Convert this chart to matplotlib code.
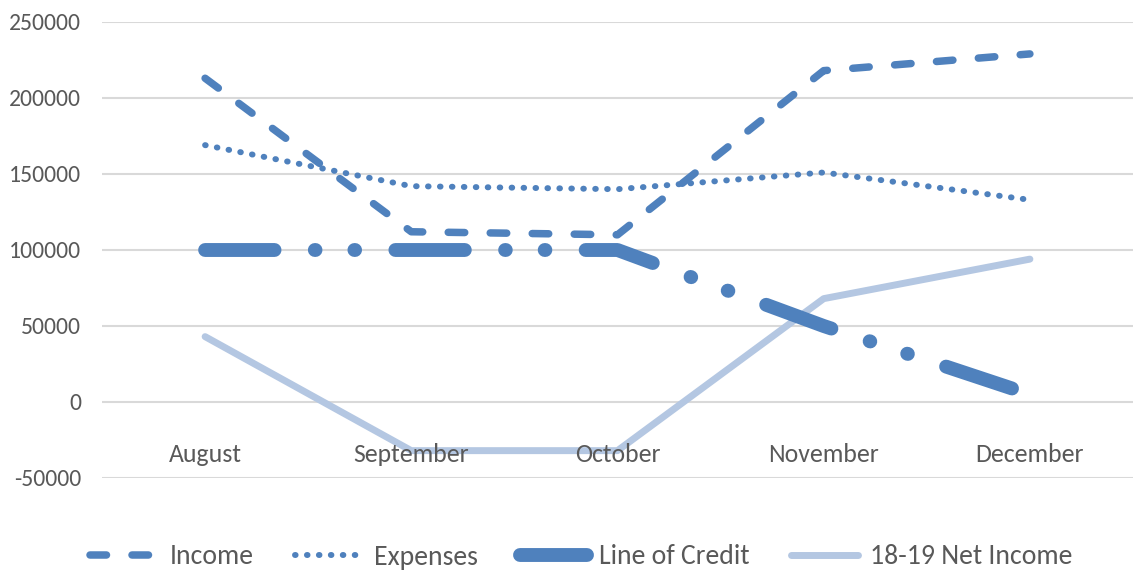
import matplotlib.pyplot as plt

# data
months = ["August", "September", "October", "November", "December"]
income = [213000, 112000, 110000, 218000, 229000]
expenses = [169000, 142000, 140000, 151000, 133000]
line_of_credit = [100000, 100000, 100000, 50000, 5000]
net_income_1819 = [43000, -32000, -32000, 68000, 94000]
y_ticks = [-50000, 0, 50000, 100000, 150000, 200000, 250000]

blue = "#4f81bd"
light_blue = "#b4c7e2"
text_col = "#595959"
plt.rcParams["font.family"] = ["Carlito", "DejaVu Sans"]

fig = plt.figure(figsize=(11.36, 5.81), dpi=100)
ax = fig.add_axes([102 / 1136, 1 - 478 / 581, (1133 - 102) / 1136, (478 - 22) / 581])

x = list(range(len(months)))

ax.plot(x, net_income_1819, color=light_blue, lw=5, solid_capstyle="round",
        label="18-19 Net Income", zorder=3)
ax.plot(x, line_of_credit, color=blue, lw=10, dash_capstyle="round",
        linestyle=(0, (5.0, 2.9, 0.05, 2.8, 0.05, 2.9)), label="Line of Credit", zorder=4)
ax.plot(x, expenses, color=blue, lw=4.3, dash_capstyle="round",
        linestyle=(0, (0.1, 1.9)), label="Expenses", zorder=5)
ax.plot(x, income, color=blue, lw=5.4, dash_capstyle="round",
        linestyle=(0, (2.2, 3.4)), label="Income", zorder=6)

ax.set_xlim(-0.5, 4.5)
ax.set_ylim(-50000, 250000)
ax.set_yticks(y_ticks)
ax.set_yticklabels([str(v) for v in y_ticks])
ax.grid(axis="y", color="#d9d9d9", lw=1.5)
ax.set_axisbelow(True)
for s in ax.spines.values():
    s.set_visible(False)
ax.tick_params(axis="y", length=0, pad=15, labelsize=17, labelcolor=text_col)
ax.set_xticks([])

# category labels sit below the zero line, Excel style
for i, m in enumerate(months):
    ax.annotate(m, (i, 0), xytext=(0, -53), textcoords="offset pixels",
                ha="center", va="center", fontsize=18.5, color=text_col)

handles, labels = ax.get_legend_handles_labels()
order = [3, 2, 1, 0]
fig.legend([handles[i] for i in order], [labels[i] for i in order],
           loc="center", bbox_to_anchor=(0.512, 1 - 557 / 581), ncol=4,
           frameon=False, fontsize=20, labelcolor=text_col,
           handlelength=2.4, handletextpad=0.45, columnspacing=1.5)

fig.savefig("out.png", dpi=100)
